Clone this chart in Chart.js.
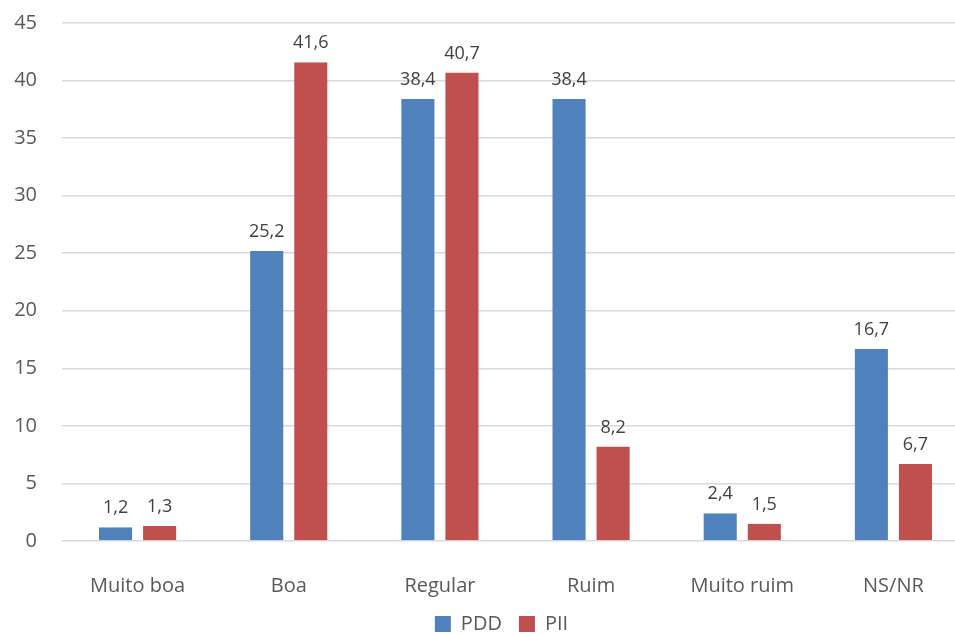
<!DOCTYPE html>
<html>
<head>
<meta charset="utf-8">
<script src="https://cdn.jsdelivr.net/npm/chart.js@4/dist/chart.umd.min.js"></script>
<style>
  html, body { margin: 0; padding: 0; background: #fff; overflow: hidden; }
  #wrap { width: 1000px; height: 658px; margin-top: -14px; position: relative; }
</style>
</head>
<body>
<div id="wrap"><canvas id="chart"></canvas></div>
<script>
// Data
const categories = ['Muito boa', 'Boa', 'Regular', 'Ruim', 'Muito ruim', 'NS/NR'];
const pdd = [1.2, 25.2, 38.4, 38.4, 2.4, 16.7];
const pii = [1.3, 41.6, 40.7, 8.2, 1.5, 6.7];

const textColor = '#595959';
const fontFamily = "'Open Sans', 'Liberation Sans', sans-serif";

// Value labels above bars, comma as decimal sep
const valueLabels = {
    id: 'valueLabels',
    afterDatasetsDraw(chart) {
        const ctx = chart.ctx;
        ctx.save();
        ctx.font = '18px ' + fontFamily;
        ctx.fillStyle = '#404040';
        ctx.textAlign = 'center';
        ctx.textBaseline = 'bottom';
        chart.data.datasets.forEach((ds, i) => {
            chart.getDatasetMeta(i).data.forEach((bar, j) => {
                const txt = ds.data[j].toFixed(1).replace('.', ',');
                ctx.fillText(txt, bar.x, bar.y - 10);
            });
        });
        ctx.restore();
    }
};

// nudge the legend a bit right, the original is centred on a wider frame
const legendShift = {
    id: 'legendShift',
    afterLayout(chart) {
        chart.legend.left += 17;
        chart.legend.right += 17;
    }
};

const gap = { left: 5.5, right: 5.5, top: 0, bottom: 0 };

new Chart(document.getElementById('chart').getContext('2d'), {
    type: 'bar',
    data: {
        labels: categories,
        datasets: [{
            label: 'PDD',
            data: pdd,
            backgroundColor: '#4F81BD',
            borderColor: 'rgba(0,0,0,0)',
            borderWidth: gap,
            borderSkipped: false
        }, {
            label: 'PII',
            data: pii,
            backgroundColor: '#C0504D',
            borderColor: 'rgba(0,0,0,0)',
            borderWidth: gap,
            borderSkipped: false
        }]
    },
    options: {
        responsive: true,
        maintainAspectRatio: false,
        animation: false,
        categoryPercentage: 0.583,
        barPercentage: 1,
        layout: { padding: { top: 1, right: 31, left: 0, bottom: 0 } },
        plugins: {
            legend: {
                position: 'bottom',
                labels: {
                    boxWidth: 16,
                    boxHeight: 16,
                    padding: 17,
                    color: textColor,
                    font: { family: fontFamily, size: 20 }
                }
            },
            tooltip: { enabled: false }
        },
        scales: {
            x: {
                grid: { display: false },
                border: { display: false },
                ticks: {
                    color: textColor,
                    padding: 25,
                    font: { family: fontFamily, size: 20 }
                },
                afterFit(scale) { scale.height = 56; }
            },
            y: {
                min: 0,
                max: 45,
                ticks: {
                    stepSize: 5,
                    color: textColor,
                    padding: 25,
                    font: { family: fontFamily, size: 20 }
                },
                grid: { color: '#D9D9D9', lineWidth: 1.5, drawTicks: false },
                border: { display: false },
                afterFit(scale) { scale.width = 62; }
            }
        }
    },
    plugins: [valueLabels, legendShift]
});
</script>
</body>
</html>
